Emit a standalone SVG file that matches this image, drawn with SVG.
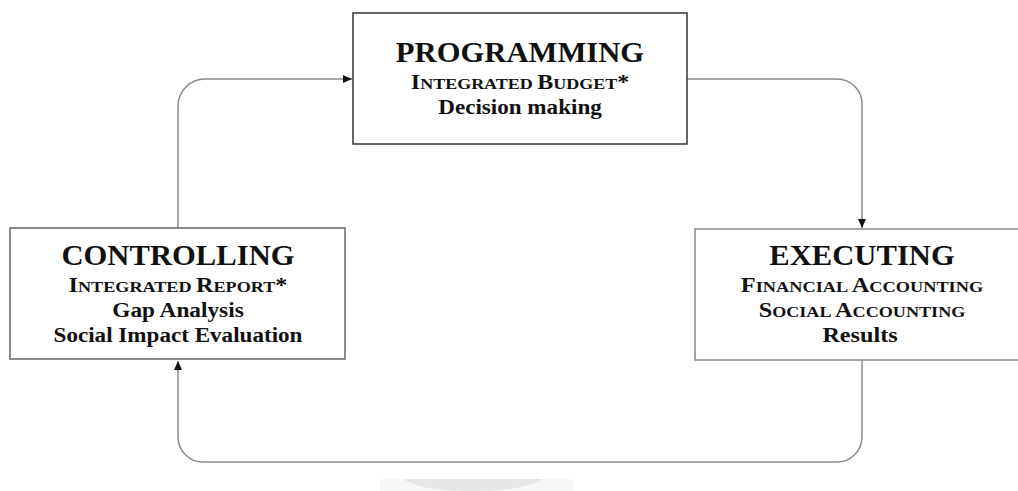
<svg xmlns="http://www.w3.org/2000/svg" width="1018" height="491" viewBox="0 0 1018 491">
<style>
.t{font-family:"Liberation Serif","Times New Roman",serif;font-weight:bold;fill:#111;text-anchor:middle}
.h{font-size:28.5px}
.s{font-size:20px}
.b{font-size:22px}
.sc{font-size:15px}
.conn{fill:none;stroke:#8a8a8a;stroke-width:1.5}
</style>
<defs>
<marker id="arr" markerWidth="9" markerHeight="8" refX="9" refY="4" orient="auto" markerUnits="userSpaceOnUse">
<path d="M0,0 L9,4 L0,8 z" fill="#111"/>
</marker>
</defs>
<rect width="1018" height="491" fill="#fff"/>
<rect x="380" y="479" width="193" height="12" fill="#f7f7f7"/>
<path d="M403,479 L542,479 C530,486 515,491 472,491 C430,491 415,486 403,479 Z" fill="#e6e6e6"/>
<g id="connectors">
<path class="conn" d="M178,228 V106 A27,27 0 0 1 205,79 H352" marker-end="url(#arr)"/>
<path class="conn" d="M687,79 H837 A25,25 0 0 1 862,104 V228" marker-end="url(#arr)"/>
<path class="conn" d="M862,360 V437 A25,25 0 0 1 837,462 H203 A25,25 0 0 1 178,437 V361" marker-end="url(#arr)"/>
</g>
<g id="programming">
<rect x="353" y="13" width="334" height="131" fill="#fff" stroke="#333" stroke-width="1.5"/>
<text class="t h" transform="translate(520,62) scale(1.075,1)">PROGRAMMING</text>
<text class="t s" transform="translate(520,89) scale(1.2,1)">I<tspan class="sc">NTEGRATED </tspan>B<tspan class="sc">UDGET</tspan>*</text>
<text class="t b" transform="translate(520,114) scale(1.05,1)">Decision making</text>
</g>
<g id="controlling">
<rect x="10" y="228" width="335" height="131" fill="#fff" stroke="#666" stroke-width="1.5"/>
<text class="t h" transform="translate(178,265) scale(1.075,1)">CONTROLLING</text>
<text class="t s" transform="translate(178,291.5) scale(1.21,1)">I<tspan class="sc">NTEGRATED </tspan>R<tspan class="sc">EPORT</tspan>*</text>
<text class="t b" transform="translate(178,316.5) scale(1.06,1)">Gap Analysis</text>
<text class="t b" transform="translate(178,341.5) scale(1.05,1)">Social Impact Evaluation</text>
</g>
<g id="executing">
<rect x="695" y="229" width="340" height="131" fill="#fff" stroke="#888" stroke-width="1.5"/>
<text class="t h" transform="translate(862,264.5) scale(1.075,1)">EXECUTING</text>
<text class="t s" transform="translate(862,291.5) scale(1.22,1)">F<tspan class="sc">INANCIAL </tspan>A<tspan class="sc">CCOUNTING</tspan></text>
<text class="t s" transform="translate(862,316.5) scale(1.21,1)">S<tspan class="sc">OCIAL </tspan>A<tspan class="sc">CCOUNTING</tspan></text>
<text class="t b" transform="translate(860,341.5) scale(1.1,1)">Results</text>
</g>
</svg>
